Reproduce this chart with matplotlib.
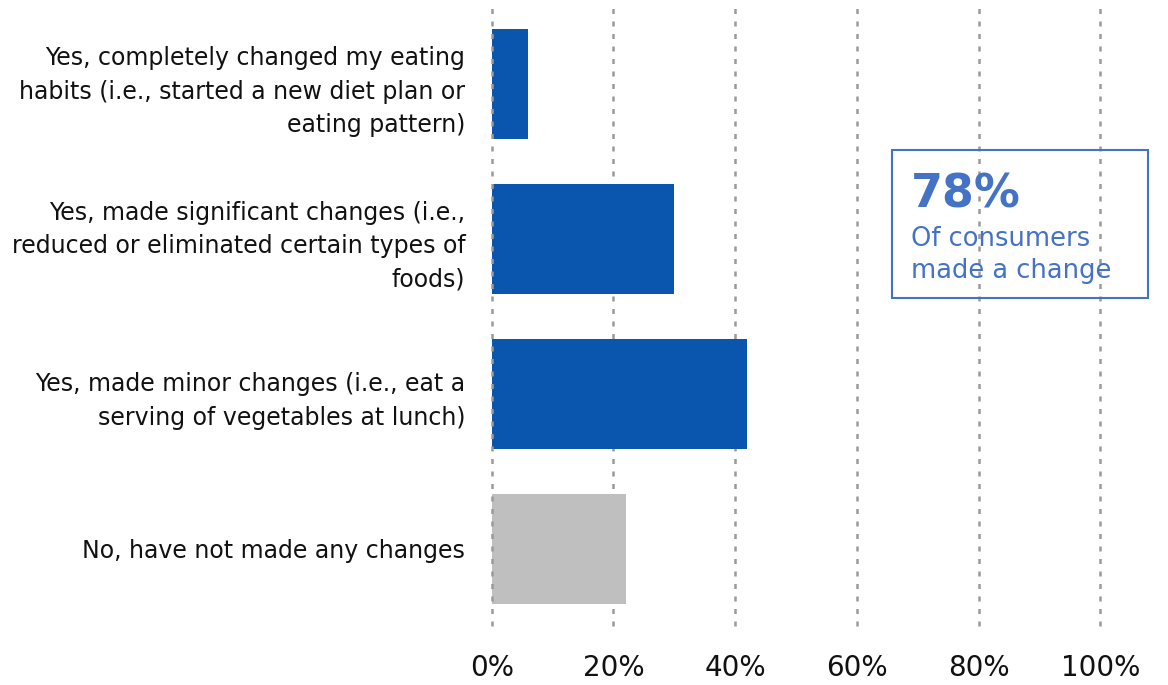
import matplotlib.pyplot as plt
from matplotlib.patches import Rectangle

# Données
categories = [
    "Yes, completely changed my eating\nhabits (i.e., started a new diet plan or\neating pattern)",
    "Yes, made significant changes (i.e.,\nreduced or eliminated certain types of\nfoods)",
    "Yes, made minor changes (i.e., eat a\nserving of vegetables at lunch)",
    "No, have not made any changes",
]
values = [6, 30, 42, 22]
bar_colors = ["#0A56AE", "#0A56AE", "#0A56AE", "#BFBFBF"]
xticks = [0, 20, 40, 60, 80, 100]
xtick_labels = ["0%", "20%", "40%", "60%", "80%", "100%"]
callout_big = "78%"
callout_small = "Of consumers\nmade a change"

fig = plt.figure(figsize=(11.68, 6.85), dpi=100)
ax = fig.add_axes([0.421, 0.086, 0.521, 0.904])

y = list(range(len(categories)))
ax.barh(y, values, height=0.71, color=bar_colors, zorder=2)

for x in xticks:
    ax.axvline(x, color="#9A9A9A", linestyle=(0, (2, 3)), linewidth=1.8,
               zorder=3 if x == 0 else 1, clip_on=False)

ax.set_xlim(0, 100)
ax.set_ylim(3.5, -0.5)
ax.set_xticks(xticks)
ax.set_xticklabels(xtick_labels, fontsize=20, color="#111111")
ax.tick_params(axis="x", length=0, pad=20)
ax.set_yticks(y)
ax.set_yticklabels(categories, fontsize=17, color="#111111", linespacing=1.5)
ax.tick_params(axis="y", length=0, pad=19)
for s in ax.spines.values():
    s.set_visible(False)

# Encadré
fig.patches.append(Rectangle((892 / 1168, 1 - 298 / 685), 256 / 1168, 148 / 685,
                             transform=fig.transFigure, fill=False,
                             edgecolor="#4472C4", linewidth=1.5, zorder=5))
fig.text(911 / 1168, 1 - 208 / 685, callout_big, fontsize=33, fontweight="bold",
         color="#4472C4", va="baseline", ha="left")
fig.text(911 / 1168, 1 - 255 / 685, callout_small, fontsize=18.5, color="#4472C4",
         va="center", ha="left", linespacing=1.35)

plt.savefig("out.png", dpi=100)
